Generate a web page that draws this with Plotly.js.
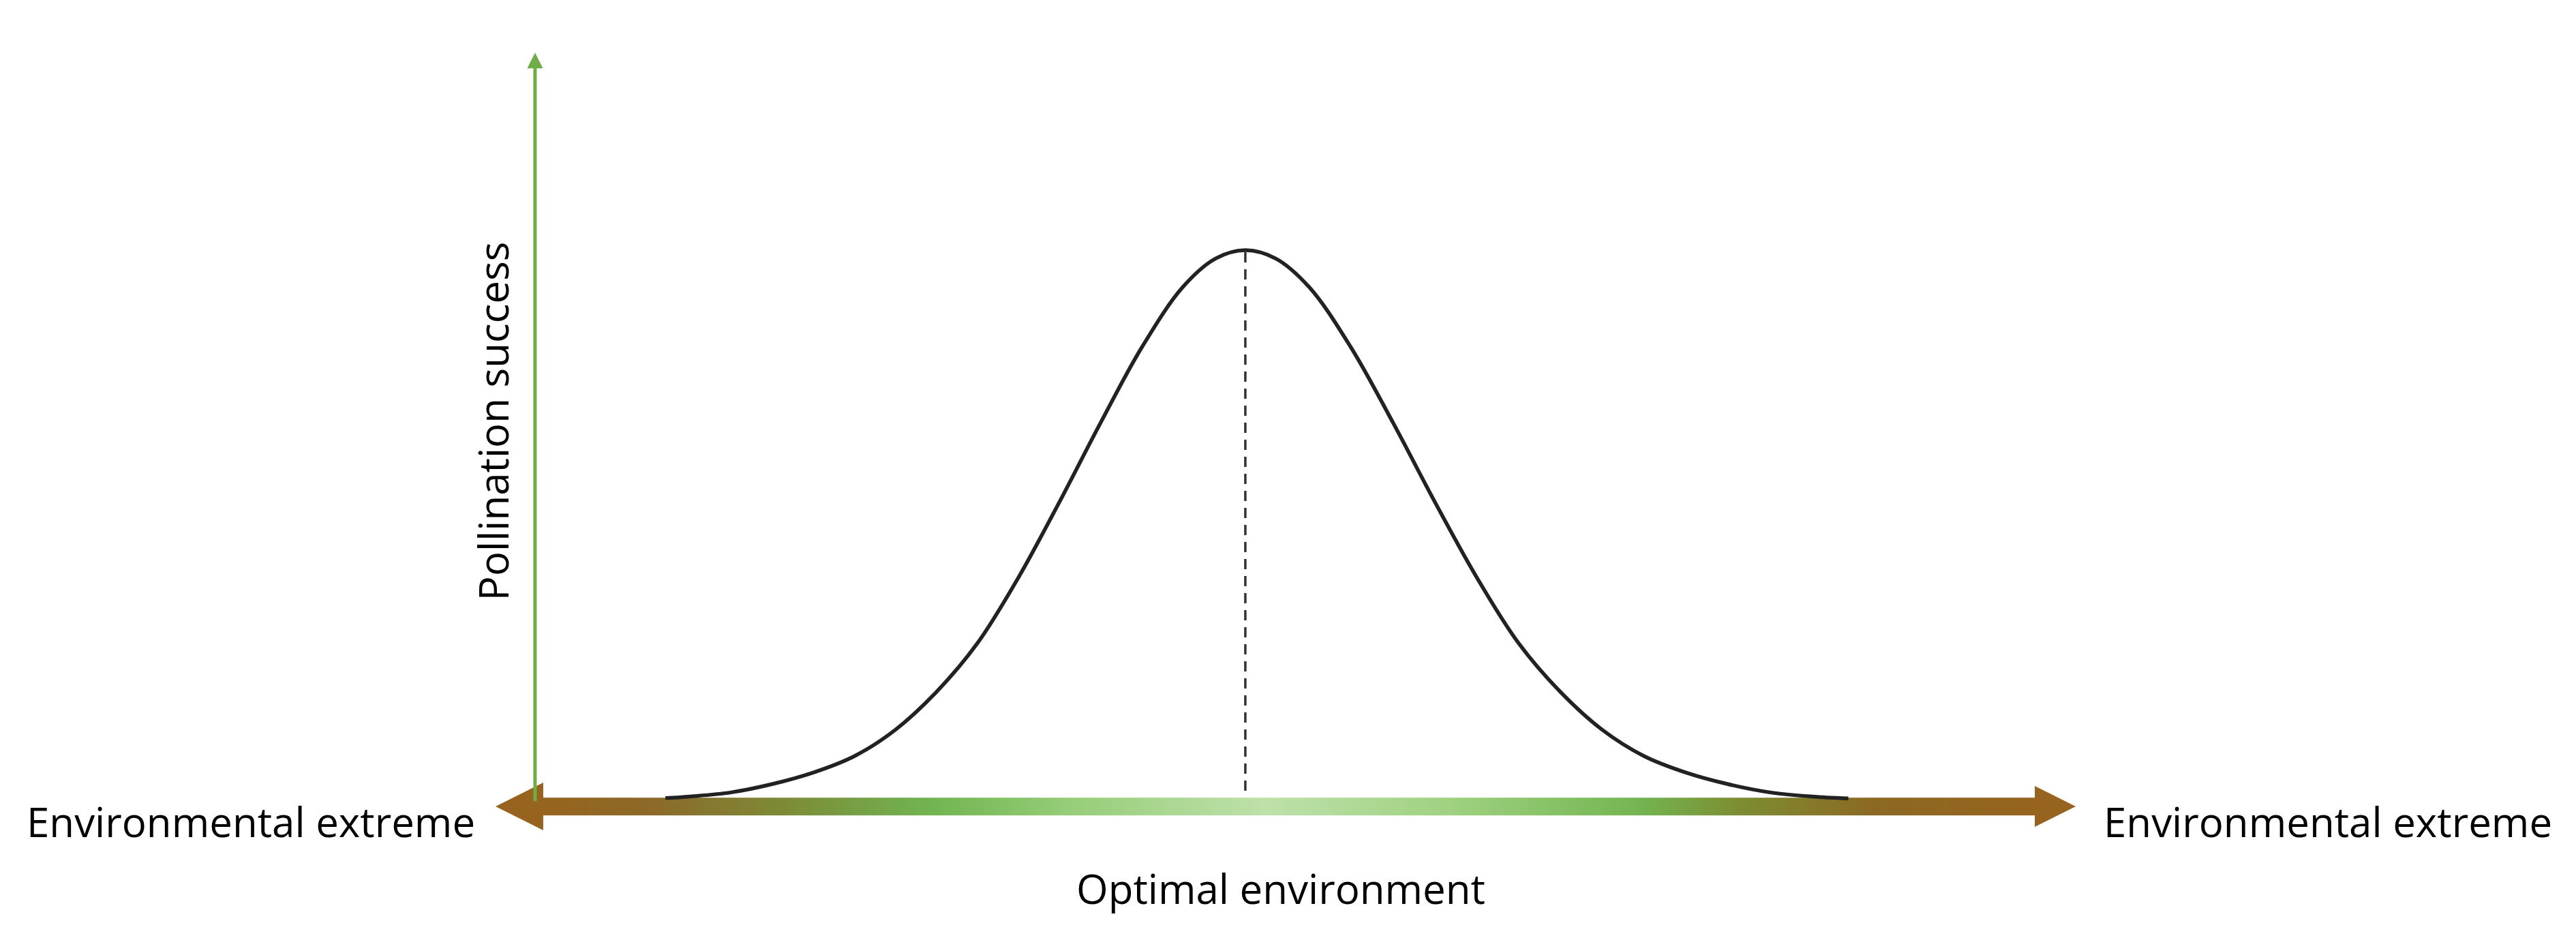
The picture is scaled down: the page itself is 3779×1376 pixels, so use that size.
<!DOCTYPE html>
<html><head><meta charset="utf-8">
<script src="https://cdn.plot.ly/plotly-3.0.1.min.js"></script>
<style>html,body{margin:0;padding:0;background:#fff;overflow:hidden}</style>
</head><body><div id="chart" style="width:3779px;height:1376px"></div>
<script>
// Environmental gradient position: 0 = left extreme, 100 = right extreme
// Pollination success: 0 = baseline, 100 = peak
const curveX = [10.75,12.30,14.91,17.50,20.10,22.71,25.30,27.90,30.50,33.10,35.70,38.30,40.90,43.50,45.58,47.45,49.36,51.48,54.13,56.79,59.43,62.09,64.74,67.39,70.04,72.69,75.34,77.99,80.65,83.30,85.61];
const curveY = [0.15,0.45,1.2,2.7,4.8,7.8,12.6,19.5,28.4,40.4,54.2,68.6,82.3,93.3,98.5,100,98.5,93.3,82.3,68.6,54.2,40.4,28.4,19.5,12.6,7.8,4.8,2.7,1.2,0.45,0.1];
const optimumX = 47.45;
const optimumY = [1.5, 100];
// gradient along the environment axis
const gradPos = [2,3,10.2,18.5,27.4,36.2,48.7,60.1,72.6,78.9,87.2,97,98];
const gradColors = ['#96641f','#96641f','#8c6a28','#7d8c37','#70b450','#96cd78','#bee1aa','#a0d282','#73b450','#7d8c32','#8c6923','#96641f','#96641f'];
const labelExtreme = 'Environmental extreme';
const labelOptimal = 'Optimal environment';
const labelY = 'Pollination success';

const FONT = {family:'Open Sans, Noto Sans, sans-serif', size:60, color:'#000'};
const gMin = gradPos[0], gMax = gradPos[gradPos.length-1];
const colorscale = gradPos.map((p,i)=>[(p-gMin)/(gMax-gMin), gradColors[i]]);
const shaftC = -1.37, shaftH = 3.2;

const traces = [
  {type:'heatmap', x:gradPos, y:[shaftC-shaftH/4, shaftC+shaftH/4], z:[gradPos, gradPos],
   zmin:gMin, zmax:gMax, colorscale:colorscale, zsmooth:'best', showscale:false, hoverinfo:'skip'},
  {type:'scatter', mode:'lines', x:[optimumX, optimumX], y:optimumY,
   line:{color:'#333', width:3.5, dash:'15px,10px'}, hoverinfo:'skip'},
  {type:'scatter', mode:'lines', x:curveX, y:curveY,
   line:{color:'#222', width:5.5, shape:'spline', smoothing:1}, hoverinfo:'skip'}
];

const brown = '#96641f';
const annotations = [
  {xref:'x', yref:'y', axref:'x', ayref:'y', x:0, y:shaftC, ax:1.8, ay:shaftC, text:'',
   showarrow:true, arrowhead:2, arrowsize:7, arrowwidth:2, arrowcolor:brown},
  {xref:'x', yref:'y', axref:'x', ayref:'y', x:100, y:shaftC, ax:98.4, ay:shaftC, text:'',
   showarrow:true, arrowhead:2, arrowsize:6, arrowwidth:2, arrowcolor:brown},
  {xref:'x', yref:'y', axref:'x', ayref:'y', x:2.5, y:136, ax:2.5, ay:-0.6, text:'',
   showarrow:true, arrowhead:2, arrowsize:0.92, arrowwidth:5, arrowcolor:'#70ad47'},
  {xref:'x', yref:'y', x:-1.2, y:-4.1, xanchor:'right', yanchor:'middle', text:labelExtreme, showarrow:false, font:FONT},
  {xref:'x', yref:'y', x:101.7, y:-4.1, xanchor:'left', yanchor:'middle', text:labelExtreme, showarrow:false, font:FONT},
  {xref:'x', yref:'y', x:49.7, y:-16.3, xanchor:'center', yanchor:'middle', text:labelOptimal, showarrow:false, font:FONT},
  {xref:'x', yref:'y', x:-0.17, y:68.8, xanchor:'center', yanchor:'middle', textangle:-90, text:labelY, showarrow:false, font:FONT}
];

const layout = {
  width:3779, height:1376, margin:{l:0,r:0,t:0,b:0},
  paper_bgcolor:'#fff', plot_bgcolor:'#fff', showlegend:false,
  xaxis:{range:[-31.36,131.66], visible:false, fixedrange:true},
  yaxis:{range:[-25.34,145.59], visible:false, fixedrange:true},
  annotations:annotations
};
Plotly.newPlot('chart', traces, layout, {staticPlot:true, displayModeBar:false});
</script></body></html>
